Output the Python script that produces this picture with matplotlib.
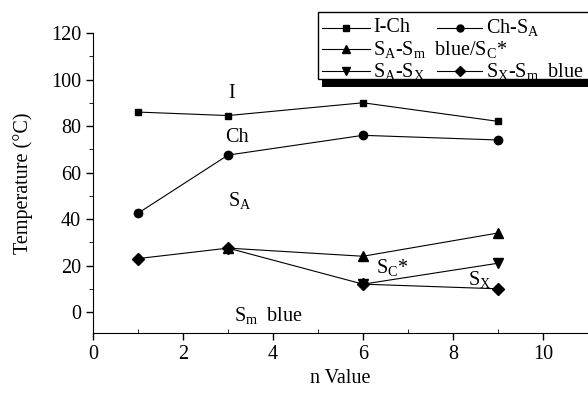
import matplotlib
matplotlib.use("Agg")
import matplotlib.pyplot as plt
from matplotlib.lines import Line2D
from matplotlib.patches import Rectangle
from matplotlib.ticker import MultipleLocator

plt.rcParams['font.family'] = 'Liberation Serif'
plt.rcParams['mathtext.fontset'] = 'custom'
plt.rcParams['mathtext.rm'] = 'Liberation Serif'
plt.rcParams['mathtext.it'] = 'Liberation Serif:italic'

# data
n_ich = [1, 3, 6, 9]
t_ich = [86, 84.5, 90, 82]
n_chsa = [1, 3, 6, 9]
t_chsa = [42.5, 67.5, 76, 74]
n_sasm = [3, 6, 9]
t_sasm = [27.5, 24, 34]
n_sasx = [6, 9]
t_sasx = [12, 21]
n_sxsm = [1, 3, 6, 9]
t_sxsm = [23, 27.5, 12, 10]

labels = ['I-Ch', 'Ch-S$_\\mathrm{A}$', 'S$_\\mathrm{A}$-S$_\\mathrm{m}$  blue/S$_\\mathrm{C}$*',
          'S$_\\mathrm{A}$-S$_\\mathrm{X}$', 'S$_\\mathrm{X}$-S$_\\mathrm{m}$  blue']
markers = ['s', 'o', '^', 'v', 'D']
msizes = [5, 6, 6.5, 6.5, 6.5]
FS = 14.5

W, H = 588, 401
fig = plt.figure(figsize=(W / 100, H / 100), dpi=100)
ax = fig.add_axes([93 / W, 68 / H, 1 - 93 / W, (333 - 33) / H])

series = [(n_ich, t_ich), (n_chsa, t_chsa), (n_sasm, t_sasm), (n_sasx, t_sasx), (n_sxsm, t_sxsm)]
for (xs, ys), m, ms in zip(series, markers, msizes):
    ax.plot(xs, ys, color='black', lw=0.8, marker=m, ms=ms)

ax.set_xlim(0, 11.0)
ax.set_ylim(-9, 120)
ax.spines['top'].set_visible(False)
ax.spines['right'].set_visible(False)
ax.spines['left'].set_bounds(-9, 120)
ax.xaxis.set_major_locator(MultipleLocator(2))
ax.xaxis.set_minor_locator(MultipleLocator(1))
ax.yaxis.set_major_locator(MultipleLocator(20))
ax.yaxis.set_minor_locator(MultipleLocator(10))
ax.tick_params(which='major', direction='out', length=5, width=1, labelsize=FS, colors='black')
ax.tick_params(axis='x', which='minor', direction='in', length=3)
ax.tick_params(axis='y', which='minor', direction='out', length=3)
ax.set_xlabel('n Value', fontsize=FS, labelpad=4)
ax.set_ylabel('Temperature (°C)', fontsize=FS, labelpad=13)

# phase labels
ax.text(3.08, 94, 'I', fontsize=FS, ha='center', va='center')
ax.text(3.2, 75, 'Ch', fontsize=FS, ha='center', va='center')
ax.text(3.25, 48, 'S$_\\mathrm{A}$', fontsize=FS, ha='center', va='center')
ax.text(6.65, 19, 'S$_\\mathrm{C}$*', fontsize=FS, ha='center', va='center')
ax.text(8.6, 14, 'S$_\\mathrm{X}$', fontsize=FS, ha='center', va='center')
ax.text(3.9, -1.5, 'S$_\\mathrm{m}$  blue', fontsize=FS, ha='center', va='center')


def fx(x):
    return x / W


def fy(y):
    return 1 - y / H


# hand-made legend box with shadow
fig.add_artist(Rectangle((fx(318), fy(79)), fx(300), fy(12) - fy(79), transform=fig.transFigure,
                         facecolor='white', edgecolor='black', lw=1))
fig.add_artist(Rectangle((fx(322), fy(87)), fx(300), fy(79) - fy(87), transform=fig.transFigure,
                         facecolor='black', edgecolor='none'))
slots = [(0, 28), (1, 28), (0, 49), (0, 71), (1, 71)]
cols = [(322, 370, 346, 373), (437, 482, 460, 486)]
for (c, yy), lab, m, ms in zip(slots, labels, markers, msizes):
    x0, x1, xm, xt = cols[c]
    fig.add_artist(Line2D([fx(x0), fx(x1)], [fy(yy), fy(yy)], transform=fig.transFigure, color='black', lw=0.8))
    fig.add_artist(Line2D([fx(xm)], [fy(yy)], transform=fig.transFigure, color='black', marker=m, ms=ms - 1))
    fig.text(fx(xt), fy(yy), lab, fontsize=FS, ha='left', va='center')

fig.savefig('out.png', dpi=100)
